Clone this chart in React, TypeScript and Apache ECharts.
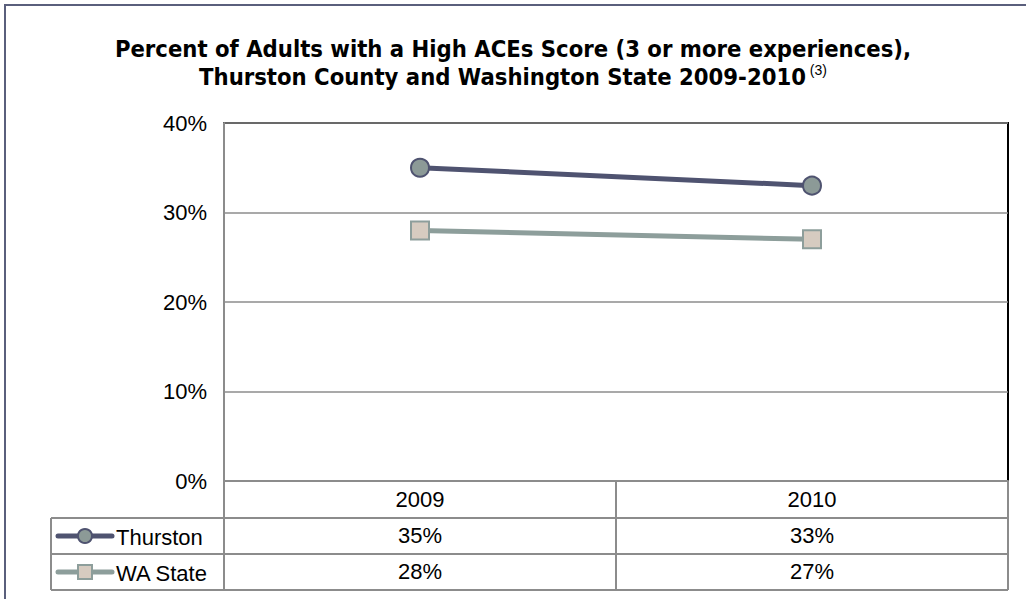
import React, { useEffect, useRef } from "react";
import * as echarts from "echarts";

const years = ["2009", "2010"];
const seriesNames = ["Thurston", "WA State"];
const thurston = [35, 33];
const waState = [28, 27];
const yTicks = [0, 10, 20, 30, 40];

const GRID_L = 224;
const GRID_T = 123;
const GRID_R = 1008;
const GRID_B = 481;
const ROW1 = 518;
const ROW2 = 554;
const ROW3 = 590;
const TABLE_L = 51;

const C_TH = "#4f5370";
const C_TH_FILL = "#8c9a97";
const C_WA = "#8d9e9b";
const C_WA_FILL = "#d6cbc0";
const C_GRID = "#8c8c8c";

export default function App() {
  const ref = useRef<HTMLDivElement>(null);
  useEffect(() => {
    document.body.style.margin = "0";
    const chart = echarts.init(ref.current!, null, { renderer: "svg" });
    const font = "'Liberation Sans', Arial, sans-serif";
    const FS = 22;
    const mid = (GRID_L + GRID_R) / 2;
    const tl = (x1: number, y1: number, x2: number, y2: number, color = C_GRID, w = 2) => ({
      type: "line",
      shape: { x1, y1, x2, y2 },
      style: { stroke: color, lineWidth: w },
      z: 10,
    });
    const lbl = { fontFamily: font, fontSize: FS, color: "#000", margin: 7 };
    chart.setOption({
      animation: false,
      backgroundColor: "#fff",
      title: {
        left: "center",
        top: 30,
        text:
          "{a|Percent of Adults with a High ACEs Score (3 or more experiences),}\n{a|Thurston County and Washington State 2009-2010}{s| (3)}",
        textStyle: {
          rich: {
            a: {
              fontFamily: "DejaVu Sans Condensed",
              fontWeight: "bold",
              fontSize: 23.6,
              color: "#000",
              lineHeight: 28,
            },
            s: {
              fontFamily: "Liberation Sans",
              fontWeight: "normal",
              fontSize: 14,
              color: "#000",
              lineHeight: 28,
              verticalAlign: "top",
              padding: [0, 0, 10, 0],
            },
          },
        },
      },
      grid: {
        left: GRID_L,
        top: GRID_T,
        width: GRID_R - GRID_L,
        height: GRID_B - GRID_T,
        show: true,
        borderColor: "#000",
        borderWidth: 2,
        containLabel: false,
      },
      xAxis: [
        {
          type: "category",
          data: years,
          boundaryGap: true,
          axisLine: { show: true, lineStyle: { color: C_GRID, width: 2 } },
          axisTick: { show: false },
          axisLabel: lbl,
          z: 5,
        },
        {
          type: "category",
          data: thurston.map((v) => v + "%"),
          position: "bottom",
          offset: 36,
          axisLine: { show: false },
          axisTick: { show: false },
          axisLabel: lbl,
        },
        {
          type: "category",
          data: waState.map((v) => v + "%"),
          position: "bottom",
          offset: 72,
          axisLine: { show: false },
          axisTick: { show: false },
          axisLabel: lbl,
        },
      ],
      yAxis: {
        type: "value",
        min: yTicks[0],
        max: yTicks[yTicks.length - 1],
        interval: 10,
        axisLine: { show: true, lineStyle: { color: C_GRID, width: 2 } },
        axisTick: { show: false },
        axisLabel: {
          fontFamily: font,
          fontSize: FS,
          color: "#000",
          margin: 17,
          formatter: (v: number) => v + "%",
        },
        splitLine: { show: true, lineStyle: { color: C_GRID, width: 1.5 } },
      },
      series: [
        {
          name: seriesNames[0],
          type: "line",
          data: thurston,
          symbol: "circle",
          symbolSize: 18,
          lineStyle: { color: C_TH, width: 5 },
          itemStyle: { color: C_TH_FILL, borderColor: C_TH, borderWidth: 2 },
          z: 4,
        },
        {
          name: seriesNames[1],
          type: "line",
          data: waState,
          symbol: "rect",
          symbolSize: 18,
          lineStyle: { color: C_WA, width: 5 },
          itemStyle: { color: C_WA_FILL, borderColor: C_WA, borderWidth: 2 },
          z: 3,
        },
      ],
      graphic: [
        {
          type: "rect",
          shape: { x: 5, y: 5, width: 1040, height: 620 },
          style: { fill: "none", stroke: "#5a5f7c", lineWidth: 2 },
          z: 0,
          silent: true,
        },
        tl(GRID_L, GRID_B, GRID_L, ROW3),
        tl(mid, GRID_B, mid, ROW3),
        tl(GRID_R, GRID_B, GRID_R, ROW3),
        tl(GRID_L, ROW1, GRID_R, ROW1),
        tl(TABLE_L, ROW1, GRID_L, ROW1),
        tl(TABLE_L, ROW2, GRID_R, ROW2),
        tl(TABLE_L, ROW3, GRID_R, ROW3),
        tl(TABLE_L, ROW1, TABLE_L, ROW3),
        {
          type: "line",
          shape: { x1: 58, y1: (ROW1 + ROW2) / 2, x2: 112, y2: (ROW1 + ROW2) / 2 },
          style: { stroke: C_TH, lineWidth: 5, lineCap: "round" },
          z: 11,
        },
        {
          type: "circle",
          shape: { cx: 85, cy: (ROW1 + ROW2) / 2, r: 7 },
          style: { fill: C_TH_FILL, stroke: C_TH, lineWidth: 2 },
          z: 12,
        },
        {
          type: "text",
          x: 116,
          y: (ROW1 + ROW2) / 2 + 1,
          style: {
            text: seriesNames[0],
            font: `${FS}px ${font}`,
            fill: "#000",
            verticalAlign: "middle",
          },
          z: 12,
        },
        {
          type: "line",
          shape: { x1: 58, y1: (ROW2 + ROW3) / 2, x2: 112, y2: (ROW2 + ROW3) / 2 },
          style: { stroke: C_WA, lineWidth: 5, lineCap: "round" },
          z: 11,
        },
        {
          type: "rect",
          shape: { x: 78, y: (ROW2 + ROW3) / 2 - 7, width: 14, height: 14 },
          style: { fill: C_WA_FILL, stroke: C_WA, lineWidth: 2 },
          z: 12,
        },
        {
          type: "text",
          x: 116,
          y: (ROW2 + ROW3) / 2 + 1,
          style: {
            text: seriesNames[1],
            font: `${FS}px ${font}`,
            fill: "#000",
            verticalAlign: "middle",
          },
          z: 12,
        },
      ],
    });
    return () => chart.dispose();
  }, []);
  return <div ref={ref} style={{ width: 1026, height: 599 }} />;
}
